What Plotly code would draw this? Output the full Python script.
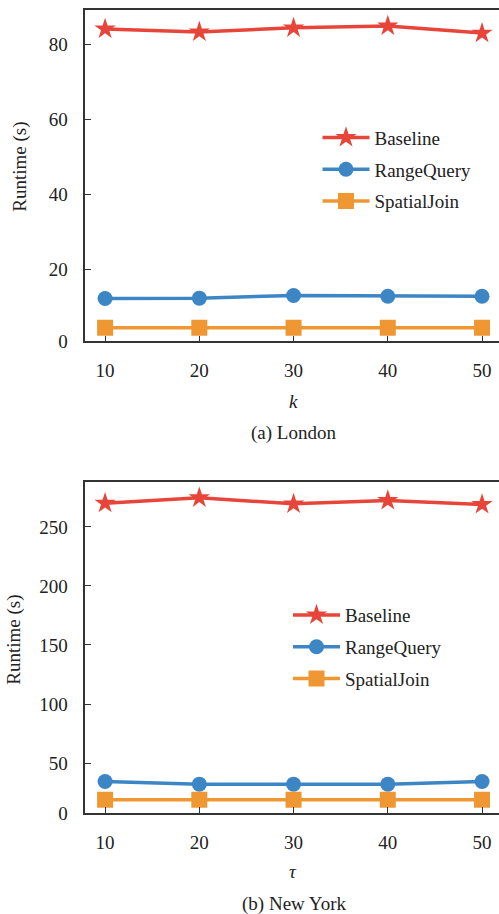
import plotly.graph_objects as go

x_vals = [10, 20, 30, 40, 50]
series_names = ["Baseline", "RangeQuery", "SpatialJoin"]

london_baseline = [84.1, 83.3, 84.4, 84.9, 83.0]
london_rangequery = [12.3, 12.4, 13.1, 12.9, 12.9]
london_spatialjoin = [4.5, 4.5, 4.5, 4.5, 4.5]

ny_baseline = [270.0, 274.6, 269.5, 272.3, 268.9]
ny_rangequery = [34.4, 32.2, 32.2, 32.2, 34.4]
ny_spatialjoin = [18.9, 18.9, 18.9, 18.9, 18.9]

london_yticks = [20, 40, 60, 80]
ny_yticks = [50, 100, 150, 200, 250]

colors = {"Baseline": "#E8453A", "RangeQuery": "#3D86C6", "SpatialJoin": "#EE9733"}
symbols = {"Baseline": "star", "RangeQuery": "circle", "SpatialJoin": "square"}
msizes = {"Baseline": 16, "RangeQuery": 15, "SpatialJoin": 16}

FONT = "Times New Roman, Liberation Serif, Tinos, DejaVu Serif, serif"
W = 499
SCREEN_H = 914
# the page is photographed slightly squeezed vertically; compensate
H = 926

fig = go.Figure()

def add_series(vals, xa, ya, legend):
    for name, v in zip(series_names, vals):
        fig.add_trace(go.Scatter(
            x=x_vals, y=v, name=name, mode="lines+markers",
            xaxis=xa, yaxis=ya, legend=legend, legendgroup=legend + name,
            line=dict(color=colors[name], width=3.5),
            marker=dict(symbol=symbols[name], size=msizes[name], color=colors[name],
                        line=dict(width=0)),
        ))

add_series([london_baseline, london_rangequery, london_spatialjoin], "x", "y", "legend")
add_series([ny_baseline, ny_rangequery, ny_spatialjoin], "x2", "y2", "legend2")

def py(p):
    return 1 - p / SCREEN_H

def px(p):
    return p / W

top_dom = [py(341), py(10)]
bot_dom = [py(812.3), py(481.7)]
x_dom = [px(85.3), 1.0]

l_ymin, l_ymax = 0.88, 89.15
n_ymin, n_ymax = 7.6, 287.8

axis_common = dict(
    showline=True, linecolor="#333333", linewidth=1.5,
    ticks="inside", ticklen=6, tickwidth=1.3, tickcolor="#333333",
    showgrid=False, zeroline=False,
    tickfont=dict(family=FONT, size=19, color="#222222"),
)

x_common = dict(axis_common, tickvals=x_vals, range=[7.9, 51.8], mirror=True,
                domain=x_dom, ticklabelstandoff=11)

fig.update_layout(
    width=W, height=H,
    margin=dict(l=0, r=0, t=0, b=0),
    paper_bgcolor="white", plot_bgcolor="white",
    font=dict(family=FONT, size=19, color="#222222"),
    xaxis=dict(x_common, anchor="y"),
    xaxis2=dict(x_common, anchor="y2"),
    yaxis=dict(axis_common, domain=top_dom, anchor="x", range=[l_ymin, l_ymax],
               tickvals=[l_ymin] + london_yticks,
               ticktext=["0"] + [str(t) for t in london_yticks],
               ticklabelstandoff=12),
    yaxis2=dict(axis_common, domain=bot_dom, anchor="x2", range=[n_ymin, n_ymax],
                tickvals=[n_ymin] + ny_yticks,
                ticktext=["0"] + [str(t) for t in ny_yticks],
                ticklabelstandoff=12),
    legend=dict(x=px(317.5), y=py(118.5), xanchor="left", yanchor="top",
                bgcolor="rgba(0,0,0,0)", font=dict(family=FONT, size=19),
                itemwidth=47, tracegroupgap=4),
    legend2=dict(x=px(288), y=py(595.5), xanchor="left", yanchor="top",
                 bgcolor="rgba(0,0,0,0)", font=dict(family=FONT, size=19),
                 itemwidth=47, tracegroupgap=4),
    showlegend=True,
)

ann = [
    dict(text="Runtime (s)", x=px(20.5), y=py(167), textangle=-90),
    dict(text="Runtime (s)", x=px(14), y=py(639), textangle=-90),
    dict(text="<i>k</i>", x=px(293), y=py(401)),
    dict(text="(a) London", x=px(293), y=py(433)),
    dict(text="<i>τ</i>", x=px(293), y=py(871)),
    dict(text="(b) New York", x=px(293.5), y=py(903)),
]
for a in ann:
    fig.add_annotation(xref="paper", yref="paper", showarrow=False,
                       xanchor="center", yanchor="middle",
                       font=dict(family=FONT, size=19, color="#222222"), **a)

fig.write_html(
    "out.html",
    config={"displayModeBar": False},
    post_script="document.body.style.margin='0';document.body.style.overflow='hidden';",
)
